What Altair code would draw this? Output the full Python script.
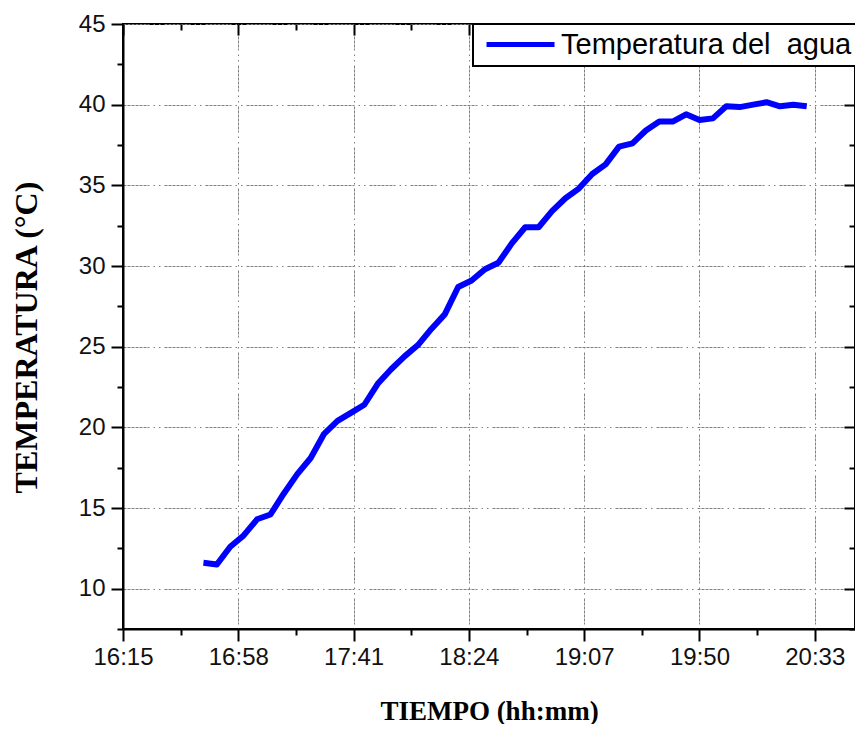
import altair as alt
import pandas as pd

# ---- data ----
horas = ["16:45", "16:50", "16:55", "17:00", "17:05", "17:10", "17:15", "17:20",
         "17:25", "17:30", "17:35", "17:40", "17:45", "17:50", "17:55", "18:00",
         "18:05", "18:10", "18:15", "18:20", "18:25", "18:30", "18:35", "18:40",
         "18:45", "18:50", "18:55", "19:00", "19:05", "19:10", "19:15", "19:20",
         "19:25", "19:30", "19:35", "19:40", "19:45", "19:50", "19:55", "20:00",
         "20:05", "20:10", "20:15", "20:20", "20:25", "20:30"]
temperatura = [11.6, 11.5, 12.6, 13.3, 14.3, 14.6, 15.9, 17.1, 18.1, 19.6,
               20.4, 20.9, 21.4, 22.7, 23.6, 24.4, 25.1, 26.1, 27.0, 28.7,
               29.1, 29.8, 30.2, 31.4, 32.4, 32.4, 33.4, 34.2, 34.8, 35.7,
               36.3, 37.4, 37.6, 38.4, 38.95, 38.95, 39.4, 39.05, 39.15, 39.9,
               39.85, 40.0, 40.15, 39.9, 40.0, 39.9]
serie = "Temperatura del\u00a0 agua\u00a0\u00a0"

x_ticks = ["16:15", "16:58", "17:41", "18:24", "19:07", "19:50", "20:33"]
x_max = "20:48"
y_ticks = [10, 15, 20, 25, 30, 35, 40, 45]
y_min, y_max = 7.5, 45


def to_min(s):
    h, m = s.split(":")
    return int(h) * 60 + int(m)


df = pd.DataFrame({
    "hora": horas,
    "minutos": [to_min(h) for h in horas],
    "temp": temperatura,
    "serie": serie,
})

x_major = [to_min(t) for t in x_ticks]
x_minor = [(a + b) / 2 for a, b in zip(x_major[:-1], x_major[1:])]
y_minor = [v - 2.5 for v in y_ticks]

label_expr = ("floor(datum.value/60) + ':' + (datum.value%60 < 10 ? '0' : '') "
              "+ (datum.value%60)")

xs = alt.Scale(domain=[x_major[0], to_min(x_max)], nice=False, zero=False)
ys = alt.Scale(domain=[y_min, y_max], nice=False, zero=False)

grid_dash = [3, 1, 3, 1, 3, 1, 3, 1, 3, 1, 3, 1, 2, 4, 1.5, 4, 1.5, 4]
base = alt.Chart(df)

main = base.mark_line(strokeWidth=6, strokeJoin="round").encode(
    x=alt.X("minutos:Q", scale=xs, axis=alt.Axis(
        orient="bottom", values=x_major, labelExpr=label_expr, labelFlush=False,
        title="TIEMPO (hh:mm)", grid=True, gridDash=grid_dash,
        gridColor="#808080", gridWidth=1, tickSize=12, tickWidth=2,
        domainWidth=2, domainColor="black", tickColor="black",
        labelPadding=4, labelFontSize=24, labelFont="Liberation Sans",
        labelColor="#111", titleFont="Liberation Serif", titleFontSize=27,
        titleFontWeight="bold", titleColor="black", titleY=90,
        titleBaseline="alphabetic")),
    y=alt.Y("temp:Q", scale=ys, axis=alt.Axis(
        orient="left", values=y_ticks, title="TEMPERATURA (°C)", grid=True,
        labelFlush=False,
        gridDash=grid_dash, gridColor="#808080", gridWidth=1, tickSize=12,
        tickWidth=2, domainWidth=2, domainColor="black", tickColor="black",
        labelPadding=6, labelFontSize=24, labelFont="Liberation Sans",
        labelColor="#111", titleFont="Liberation Serif", titleFontSize=32,
        titleFontWeight="bold", titleColor="black", titleX=-97, titleY=313,
        titleAngle=270, titleAlign="center", titleBaseline="middle")),
    color=alt.Color("serie:N", scale=alt.Scale(range=["#0000ff"]), legend=alt.Legend(
        title=None, orient="none", legendX=350, legendY=0,
        symbolType="M-0.82,0H7.18", symbolSize=289, symbolStrokeWidth=5,
        labelFontSize=29, labelFont="Liberation Sans", labelColor="black",
        labelLimit=0, labelOffset=53, padding=6, strokeColor="black",
        fillColor="white")),
)


def tick_layer(xvals, yvals, xorient, yorient, size, offset):
    return base.mark_line(opacity=0).encode(
        x=alt.X("minutos:Q", scale=xs, axis=alt.Axis(
            orient=xorient, values=xvals, labels=False, grid=False, domain=False,
            tickSize=size, tickWidth=2, tickColor="black", offset=offset,
            title=None)),
        y=alt.Y("temp:Q", scale=ys, axis=alt.Axis(
            orient=yorient, values=yvals, labels=False, grid=False, domain=False,
            tickSize=size, tickWidth=2, tickColor="black", offset=offset,
            title=None)),
    )


minor_out = tick_layer(x_minor, y_minor, "bottom", "left", 6, 0)
major_in = tick_layer(x_major, y_ticks, "top", "right", 11, -11)
minor_in = tick_layer(x_minor, y_minor, "top", "right", 6, -6)

chart = alt.layer(main, minor_out, major_in, minor_in).resolve_axis(
    x="independent", y="independent"
).properties(
    width=732, height=605,
    autosize=alt.AutoSizeParams(type="none"),
    padding={"left": 115, "top": 16, "right": 0, "bottom": 95},
).configure_view(
    stroke="black", strokeWidth=2
).configure_legend(
    strokeWidth=2
)

chart.save("out.html", embed_options={"renderer": "svg", "actions": False})
